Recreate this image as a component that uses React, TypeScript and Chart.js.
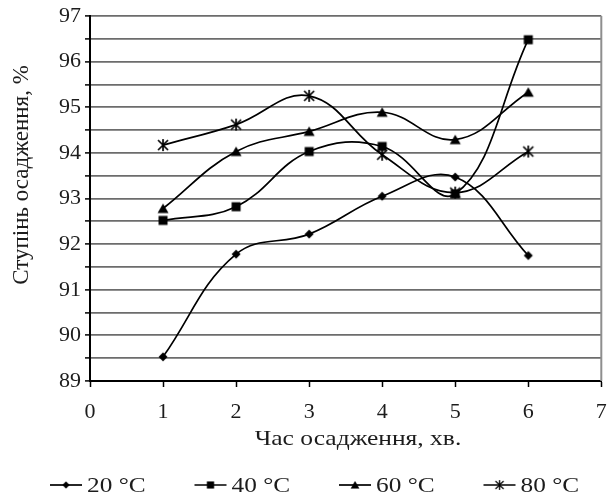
import React, { useEffect, useRef } from 'react';
import { Chart, registerables } from 'chart.js';

Chart.register(...registerables);

// ---- data ----
const times = [1, 2, 3, 4, 5, 6];
const series20 = [89.53, 91.78, 92.22, 93.05, 93.47, 91.75];
const series40 = [92.52, 92.82, 94.03, 94.14, 93.1, 96.48];
const series60 = [92.78, 94.03, 94.47, 94.89, 94.29, 95.33];
const series80 = [94.17, 94.62, 95.25, 93.96, 93.13, 94.03];
const seriesLabels = ['20 °C', '40 °C', '60 °C', '80 °C'];
const xTitle = 'Час осадження, хв.';
const yTitle = 'Ступінь осадження, %';
const xMin = 0, xMax = 7;
const yMin = 89, yMax = 97;

const FONT = '"Liberation Serif", "Times New Roman", serif';
const TEXT = '#1c1c1c';
const GRID = '#6c6c6c';

function makeMarker(kind: string): HTMLCanvasElement {
  const c = document.createElement('canvas');
  const s = 14;
  c.width = s; c.height = s;
  const g = c.getContext('2d')!;
  g.fillStyle = '#000';
  g.strokeStyle = '#000';
  const m = s / 2;
  if (kind === 'diamond') {
    g.beginPath();
    g.moveTo(m, m - 4.5); g.lineTo(m + 4.5, m); g.lineTo(m, m + 4.5); g.lineTo(m - 4.5, m);
    g.closePath(); g.fill();
  } else if (kind === 'square') {
    g.fillRect(m - 4.5, m - 4.5, 9, 9);
  } else if (kind === 'triangle') {
    g.beginPath();
    g.moveTo(m, m - 5); g.lineTo(m + 5.5, m + 4.5); g.lineTo(m - 5.5, m + 4.5);
    g.closePath(); g.fill();
  } else {
    g.lineWidth = 1.7;
    g.beginPath();
    g.moveTo(m - 5, m - 5); g.lineTo(m + 5, m + 5);
    g.moveTo(m + 5, m - 5); g.lineTo(m - 5, m + 5);
    g.moveTo(m, m - 6); g.lineTo(m, m + 6);
    g.stroke();
  }
  return c;
}

function stretchedText(ctx: CanvasRenderingContext2D, text: string, x: number, y: number, sx: number, align: 'left' | 'center') {
  ctx.save();
  ctx.translate(x, y);
  ctx.scale(sx, 1);
  ctx.textAlign = align;
  ctx.fillText(text, 0, 0);
  ctx.restore();
}

export default function App() {
  const ref = useRef<HTMLCanvasElement | null>(null);

  useEffect(() => {
    document.body.style.margin = '0';
    const markers = [makeMarker('diamond'), makeMarker('square'), makeMarker('triangle'), makeMarker('star')];
    const allSeries = [series20, series40, series60, series80];

    const decor = {
      id: 'decor',
      afterDraw(chart: any) {
        const { ctx, chartArea: ca } = chart;
        ctx.save();
        // right border of plot
        ctx.strokeStyle = '#8e8e8e';
        ctx.lineWidth = 2;
        ctx.beginPath();
        ctx.moveTo(ca.right, ca.top);
        ctx.lineTo(ca.right, ca.bottom);
        ctx.stroke();

        // axis titles
        ctx.fillStyle = TEXT;
        ctx.font = `22px ${FONT}`;
        ctx.textBaseline = 'middle';
        stretchedText(ctx, xTitle, 358, 439, 1.16, 'center');
        ctx.save();
        ctx.translate(22, 175);
        ctx.rotate(-Math.PI / 2);
        ctx.font = `23px ${FONT}`;
        ctx.textAlign = 'center';
        ctx.fillText(yTitle, 0, 0);
        ctx.restore();

        // legend
        ctx.font = `22px ${FONT}`;
        const ly = 485;
        seriesLabels.forEach((lab, i) => {
          const x0 = 50 + i * 144.5;
          ctx.strokeStyle = '#000';
          ctx.lineWidth = 1.7;
          ctx.beginPath();
          ctx.moveTo(x0, ly);
          ctx.lineTo(x0 + 32, ly);
          ctx.stroke();
          const mk = markers[i];
          const sc = 0.8;
          ctx.drawImage(mk, x0 + 16 - (mk.width * sc) / 2, ly - (mk.height * sc) / 2, mk.width * sc, mk.height * sc);
          ctx.fillStyle = TEXT;
          stretchedText(ctx, lab, x0 + 37, ly + 1, 1.15, 'left');
        });
        ctx.restore();
      },
    };

    const chart = new Chart(ref.current!, {
      type: 'line',
      data: {
        datasets: allSeries.map((vals, i) => ({
          label: seriesLabels[i],
          data: times.map((t, j) => ({ x: t, y: vals[j] })),
          borderColor: '#000',
          backgroundColor: '#000',
          borderWidth: 1.7,
          tension: 0.4,
          fill: false,
          pointStyle: markers[i] as any,
          pointRadius: 5,
        })),
      },
      options: {
        responsive: false,
        animation: false,
        events: [],
        layout: { padding: { top: 16, right: 5, left: 0, bottom: 0 } },
        plugins: {
          legend: { display: false },
          tooltip: { enabled: false },
          title: { display: false },
        },
        scales: {
          x: {
            type: 'linear',
            min: xMin,
            max: xMax,
            afterFit: (s: any) => { s.height = 116; s.paddingLeft = 0; s.paddingRight = 0; },
            ticks: {
              stepSize: 1,
              color: TEXT,
              font: { family: FONT, size: 22 },
              padding: 12,
              maxRotation: 0,
            },
            grid: {
              drawOnChartArea: false,
              drawTicks: true,
              tickLength: 6,
              tickColor: '#000',
              tickWidth: 1.5,
            },
            border: { display: true, color: '#000', width: 2 },
          },
          y: {
            min: yMin,
            max: yMax,
            afterFit: (s: any) => { s.width = 90; s.paddingTop = 0; s.paddingBottom = 0; },
            ticks: {
              stepSize: 0.5,
              autoSkip: false,
              color: TEXT,
              font: { family: FONT, size: 22 },
              padding: 4,
              callback: (v: any) => (Number.isInteger(v) ? String(v) : ''),
            },
            grid: {
              color: GRID,
              lineWidth: 1.8,
              drawTicks: true,
              tickLength: 5,
              tickColor: '#000',
              tickWidth: 1.5,
            },
            border: { display: true, color: '#000', width: 2 },
          },
        },
      },
      plugins: [decor],
    });
    return () => chart.destroy();
  }, []);

  return (
    <div style={{ position: 'absolute', left: 0, top: 0, width: 608, height: 497 }}>
      <canvas ref={ref} width={608} height={497} style={{ display: 'block', width: 608, height: 497 }} />
    </div>
  );
}
